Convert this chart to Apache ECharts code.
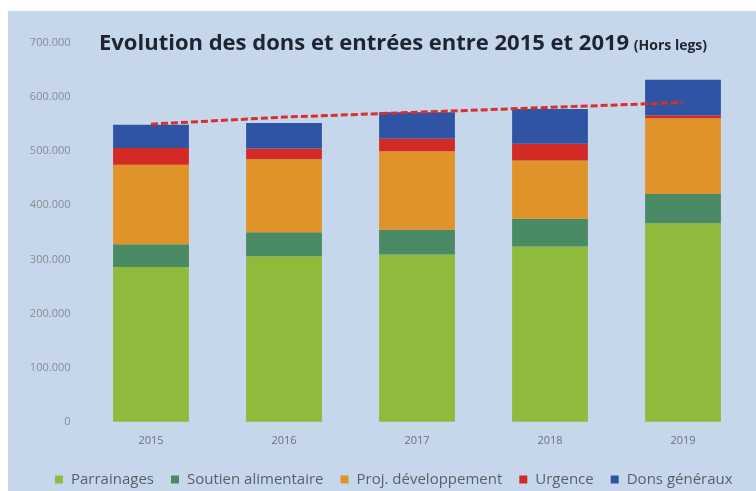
<!DOCTYPE html>
<html>
<head>
<meta charset="utf-8">
<script src="https://cdn.jsdelivr.net/npm/echarts@6/dist/echarts.min.js"></script>
<style>
	html, body { margin: 0; padding: 0; background: #fff; }
	#chart { position: absolute; left: 8px; top: 11px; width: 748px; height: 480px; }
</style>
</head>
<body>
<div id="chart"></div>
<script>
const years = ['2015', '2016', '2017', '2018', '2019'];
const parrainages = [286000, 306000, 309000, 324000, 367000];
const soutien = [42000, 44000, 46000, 51000, 54000];
const projets = [147000, 135000, 145000, 108000, 140000];
const urgence = [31000, 20000, 23000, 31000, 5000];
const donsGeneraux = [43000, 47000, 49000, 64000, 66000];
const tendance = [550000, 563000, 572000, 581000, 590000];

const fontFamily = '"Open Sans", sans-serif';

// séparateur de milliers "."
function fmt(v) {
	return String(v).replace(/\B(?=(\d{3})+(?!\d))/g, '.');
}

function bar(name, data, color) {
	return {
		name: name,
		type: 'bar',
		stack: 'total',
		data: data,
		barCategoryGap: '43%',
		itemStyle: { color: color },
		emphasis: { disabled: true }
	};
}

const myChart = echarts.init(document.getElementById('chart'));
const option = {
	backgroundColor: '#c6d7eb',
	animation: false,
	textStyle: { fontFamily: fontFamily },
	title: {
		left: 86,
		top: 17,
		text: '{a|Evolution des dons et entrées entre 2015 et 2019} {b|(Hors legs)}',
		textStyle: {
			rich: {
				a: { fontFamily: fontFamily, fontSize: 22, fontWeight: 'bold', color: '#1f2430' },
				b: { fontFamily: fontFamily, fontSize: 14, fontWeight: 'bold', color: '#1f2430', padding: [4, 0, 0, 0] }
			}
		}
	},
	grid: {
		left: 76.5,
		right: 6.5,
		top: 32,
		bottom: 69.3
	},
	legend: {
		left: 42,
		top: 456,
		icon: 'rect',
		itemWidth: 8,
		itemHeight: 8,
		itemGap: 17,
		textStyle: { fontSize: 15, color: '#5a5f66', fontFamily: fontFamily, padding: [0, 0, 0, 3] },
		data: ['Parrainages', 'Soutien alimentaire', 'Proj. développement', 'Urgence', 'Dons généraux']
	},
	xAxis: {
		type: 'category',
		data: years,
		axisLine: { show: false },
		axisTick: { show: false },
		axisLabel: { color: '#6d7178', fontSize: 11, margin: 14 }
	},
	yAxis: {
		type: 'value',
		min: 0,
		max: 700000,
		interval: 100000,
		splitLine: { show: false },
		axisLine: { show: false },
		axisTick: { show: false },
		axisLabel: { color: '#868b93', fontSize: 11, margin: 14, formatter: fmt }
	},
	series: [
		bar('Parrainages', parrainages, '#8fba3c'),
		bar('Soutien alimentaire', soutien, '#4a8a64'),
		bar('Proj. développement', projets, '#e09328'),
		bar('Urgence', urgence, '#d22b26'),
		bar('Dons généraux', donsGeneraux, '#2f54a3'),
		{
			name: 'Tendance',
			type: 'line',
			data: tendance,
			symbol: 'none',
			z: 5,
			lineStyle: { color: '#d8302c', width: 3, type: [7, 3] }
		}
	]
};
myChart.setOption(option);
</script>
</body>
</html>
